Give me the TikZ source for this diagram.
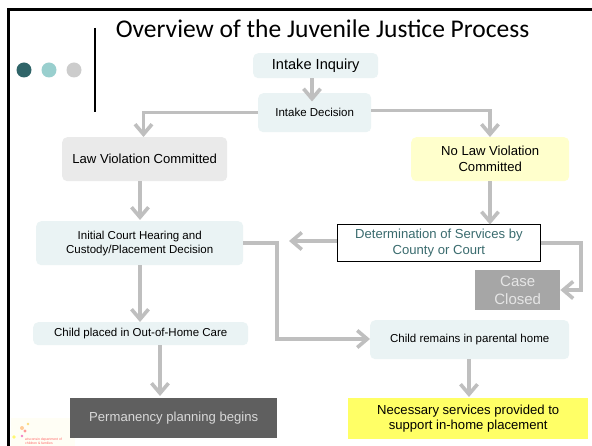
\documentclass[tikz,border=0pt]{standalone}
\usepackage{fontspec}
\setmainfont{Liberation Sans}
\newfontfamily\titlefont{Carlito}
\usetikzlibrary{arrows.meta}
\definecolor{palebox}{HTML}{EAF3F4}
\definecolor{greybox}{HTML}{EAEAEA}
\definecolor{paleyellow}{HTML}{FFFFCC}
\definecolor{brightyellow}{HTML}{FFFF66}
\definecolor{arrowgrey}{HTML}{BFBFBF}
\definecolor{darkbox}{HTML}{5F5F5F}
\definecolor{midbox}{HTML}{A6A6A6}
\definecolor{tealtext}{HTML}{3A6B6E}
\definecolor{dotdark}{HTML}{2F6468}
\definecolor{dotlight}{HTML}{99CFCE}
\definecolor{dotgrey}{HTML}{CCCCCC}
\tikzset{
  x=1pt,y=-1pt,
  flowbox/.style={anchor=north west,inner sep=0pt,align=center,text=black},
  roundbox/.style={flowbox,rounded corners=5pt},
  link/.style={draw=arrowgrey,line width=3.3pt,-{Straight Barb[length=10pt,width=17pt,line width=3.6pt]}},
  fa/.style={font=\fontsize{11.5}{14}\selectfont},
  fc/.style={font=\fontsize{13.1}{15.8}\selectfont},
  fd/.style={font=\fontsize{14.6}{17}\selectfont},
  fe/.style={font=\fontsize{15}{18}\selectfont},
}
\begin{document}
\begin{tikzpicture}
\useasboundingbox (0,0) rectangle (592,446);
\fill[white] (0,0) rectangle (592,446);
% frame
\draw[line width=3pt] (8.5,446) -- (8.5,10) -- (592,10);
\draw[line width=2.5pt] (95,28) -- (95,112);
\fill[dotdark] (24,70) circle (7.5);
\fill[dotlight] (49,70) circle (7.5);
\fill[dotgrey] (74,70) circle (7.5);
\node[font=\titlefont\fontsize{25.5}{30}\selectfont,anchor=center,inner sep=0pt] (title) at (322.5,29) {Overview of the Juvenile Justice Process};
% logo
\begin{scope}
\clip (11,415) rectangle (85,446);
\fill[yellow!4] (11,418) rectangle (75,446);
\fill[orange!40] (22,428) circle (2);
\fill[pink!80!red] (25,431) circle (1.6);
\fill[yellow!55] (14,437) circle (1.8);
\fill[yellow!50!orange!50] (28,424) circle (1.4);
\fill[magenta!50] (22,436) circle (1.3);
\node[anchor=west,inner sep=0pt,text=red!60,align=left,font=\fontsize{3.4}{4.4}\selectfont] (logo) at (25,441) {wisconsin department of\\children \& families};
\end{scope}
% boxes
\node[roundbox,fd,fill=palebox,minimum width=125pt,minimum height=25pt] (inq) at (253,53) {Intake Inquiry};
\node[roundbox,fa,fill=palebox,minimum width=113pt,minimum height=39pt] (dec) at (258,93) {Intake Decision};
\node[roundbox,fc,fill=greybox,minimum width=165pt,minimum height=44pt] (law) at (62,137) {Law Violation Committed};
\node[roundbox,fc,fill=paleyellow,minimum width=158pt,minimum height=44pt] (nolaw) at (411,137) {No Law Violation\\Committed};
\node[roundbox,fa,fill=palebox,minimum width=207pt,minimum height=44pt] (init) at (36,221) {Initial Court Hearing and\\Custody/Placement Decision};
\node[roundbox,fa,fill=palebox,minimum width=215pt,minimum height=23pt] (placed) at (33,322) {Child placed in Out-of-Home Care};
\node[flowbox,fc,fill=darkbox,text=white!85!black,minimum width=207pt,minimum height=40pt] (perm) at (70,398) {Permanency planning begins};
\node[flowbox,fc,fill=white,draw=black,line width=.8pt,text=tealtext,minimum width=203pt,minimum height=37pt] (det) at (337,224.5) {Determination of Services by\\County or Court};
\node[flowbox,fe,fill=midbox,text=white!90!black,minimum width=85pt,minimum height=40pt] (closed) at (475,270) {Case\\Closed};
\node[roundbox,fa,fill=palebox,minimum width=199pt,minimum height=39pt] (home) at (370,320) {Child remains in parental home};
\node[flowbox,fc,fill=brightyellow,minimum width=240pt,minimum height=41pt] (serv) at (348,398) {Necessary services provided to\\support in-home placement};
% connectors: free ends are named guide points
\coordinate (a1) at (312,101.5);
\draw[link] (inq.south -| a1) -- (a1);
\coordinate (a2) at (143.5,112.5);
\draw[link] (dec.west |- a2) -- (a2) -- (a2 |- law.north);
\coordinate (a3) at (490,110.5);
\draw[link] (dec.east |- a3) -- (a3) -- (a3 |- nolaw.north);
\coordinate (a4) at (140,220);
\draw[link] (law.south -| a4) -- (a4);
\draw[link] (nolaw.south -| a3) -- (det.north -| a3);
\coordinate (a5) at (289,241);
\draw[link] (det.west |- a5) -- (a5);
\coordinate (a6) at (277,243);
\coordinate (a7) at (277,339);
\draw[link] (init.east |- a6) -- (a6) -- (a7) -- (home.west |- a7);
\coordinate (a8) at (581,243);
\coordinate (a9) at (581,290);
\draw[link] (det.east |- a8) -- (a8) -- (a9) -- (closed.east |- a9);
\draw[link] (init.south -| a4) -- (placed.north -| a4);
\coordinate (a10) at (160,396);
\draw[link] (placed.south -| a10) -- (a10);
\coordinate (a11) at (469,397);
\draw[link] (home.south -| a11) -- (a11);
\end{tikzpicture}
\end{document}
